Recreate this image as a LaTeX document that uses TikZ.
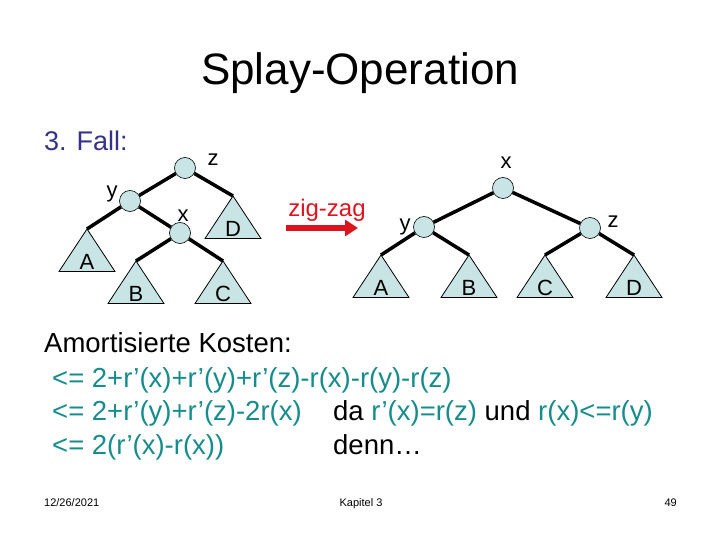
\documentclass[tikz,border=0pt]{standalone}
\usepackage{fontspec}
\setmainfont{Liberation Sans}
\usetikzlibrary{arrows.meta,backgrounds}
\definecolor{knotfill}{RGB}{200,228,228}
\definecolor{fallblue}{RGB}{51,51,136}
\definecolor{costteal}{RGB}{22,140,140}
\definecolor{zigred}{RGB}{221,20,30}
\newcommand{\fsz}[1]{\fontsize{#1}{#1}\selectfont}
\newcommand{\kosten}[1]{\textcolor{costteal}{#1}}
% subtree: name, apex x, apex y, letter
\newcommand{\subtree}[4]{%
  \draw[subtree] (#2,#3) coordinate (#1) -- ++(28,42.5) -- ++(-56,0) -- cycle;
  \node[txt] (#1-lab) at (#2,#3+40.5) {\fsz{22}#4};}

\begin{document}
\begin{tikzpicture}[x=1pt, y=-1pt,
    knot/.style={circle, draw, line width=0.6pt, fill=knotfill, minimum size=21pt, inner sep=0pt},
    edge/.style={line width=3.5pt},
    subtree/.style={draw, line width=0.8pt, fill=knotfill},
    txt/.style={inner sep=0pt, anchor=base}]
    \useasboundingbox (0,0) rectangle (720,540);

    % Title
    \node[txt] (title) at (360,85) {\fsz{44}Splay-Operation};
    \node[txt, anchor=base west, text=fallblue] (fall) at (44,151) {\fsz{27}3. Fall:};

    % Left tree
    \node[knot] (lz) at (185,168) {};
    \node[knot] (ly) at (130,201) {};
    \node[knot] (lx) at (180,233) {};
    \node[txt] (lz-lab) at (213,166) {\fsz{22}z};
    \node[txt] (ly-lab) at (112,198) {\fsz{22}y};
    \node[txt] (lx-lab) at (183,222) {\fsz{22}x};
    \subtree{lA}{87}{229}{A}
    \subtree{lB}{136}{261}{B}
    \subtree{lC}{223}{261}{C}
    \subtree{lD}{233}{196}{D}
    \begin{pgfonlayer}{background}
        \draw[edge] (lz) -- (ly);
        \draw[edge] (lz) -- (lD);
        \draw[edge] (ly) -- (lA);
        \draw[edge] (ly) -- (lx);
        \draw[edge] (lx) -- (lB);
        \draw[edge] (lx) -- (lC);
    \end{pgfonlayer}

    % Arrow
    \coordinate (zz-from) at (286,228);
    \coordinate (zz-to) at (358,228);
    \draw[zigred, line width=5.5pt, -{Triangle[length=13pt, width=16pt]}] (zz-from) -- (zz-to);
    \node[txt, text=zigred] (zz-lab) at (327,216) {\fsz{24}zig-zag};

    % Right tree
    \node[knot] (rx) at (503,188) {};
    \node[knot] (ry) at (424,227) {};
    \node[knot] (rz) at (590,228) {};
    \node[txt] (rx-lab) at (506,169) {\fsz{22}x};
    \node[txt] (ry-lab) at (405,230) {\fsz{22}y};
    \node[txt] (rz-lab) at (613,228) {\fsz{22}z};
    \subtree{rA}{381}{255}{A}
    \subtree{rB}{469}{255}{B}
    \subtree{rC}{545}{255}{C}
    \subtree{rD}{634}{255}{D}
    \begin{pgfonlayer}{background}
        \draw[edge] (rx) -- (ry);
        \draw[edge] (rx) -- (rz);
        \draw[edge] (ry) -- (rA);
        \draw[edge] (ry) -- (rB);
        \draw[edge] (rz) -- (rC);
        \draw[edge] (rz) -- (rD);
    \end{pgfonlayer}

    % Costs
    \node[txt, anchor=base west] (amort) at (44,352) {\fsz{27.5}Amortisierte Kosten:};
    \node[txt, anchor=base west] (k1) at (52,387) {\fsz{27.5}\kosten{<= 2+r’(x)+r’(y)+r’(z)-r(x)-r(y)-r(z)}};
    \node[txt, anchor=base west] (k2) at (52,420) {\fsz{27.5}\kosten{<= 2+r’(y)+r’(z)-2r(x)}};
    \node[txt, anchor=base west] (k2b) at (333,420) {\fsz{27.5}da \kosten{r’(x)=r(z)} und \kosten{r(x)<=r(y)}};
    \node[txt, anchor=base west] (k3) at (52,454) {\fsz{27.5}\kosten{<= 2(r’(x)-r(x))}};
    \node[txt, anchor=base west] (k3b) at (333,454) {\fsz{27.5}denn…};

    % Footer
    \node[txt, anchor=base west] (date) at (44,506) {\fsz{11}12/26/2021};
    \node[txt] (kap) at (361,506) {\fsz{11}Kapitel 3};
    \node[txt, anchor=base east] (page) at (677,506) {\fsz{11}49};
\end{tikzpicture}
\end{document}
